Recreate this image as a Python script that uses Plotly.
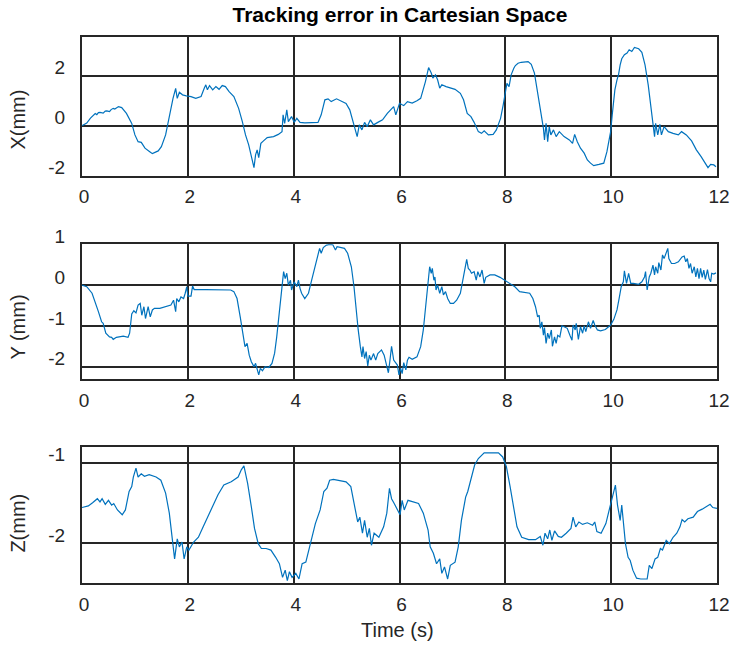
import plotly.graph_objects as go

# Time stamps (s) and tracking errors (mm) for each Cartesian axis
t_x = [0, 0.09, 0.16, 0.22, 0.25, 0.28, 0.31, 0.34, 0.4, 0.44, 0.47, 0.52, 0.55, 0.59, 0.62, 0.69, 0.75, 0.84,
       0.94, 1.0, 1.06, 1.12, 1.19, 1.28, 1.33, 1.44, 1.5, 1.58,
       1.65, 1.72, 1.77, 1.8, 1.84, 1.9, 1.97, 2.06, 2.15, 2.25, 2.31, 2.34, 2.37, 2.41, 2.47, 2.53, 2.59, 2.65,
       2.71, 2.78, 2.87, 2.96, 3.03, 3.09, 3.15, 3.2, 3.25, 3.28, 3.31, 3.34, 3.38, 3.43, 3.5, 3.62, 3.71, 3.78,
       3.8, 3.83, 3.87, 3.9, 3.96, 4.01, 4.06, 4.12, 4.21, 4.34, 4.46, 4.52, 4.59, 4.65, 4.71, 4.81, 4.9, 4.99,
       5.06, 5.12, 5.16, 5.2, 5.24, 5.29, 5.34, 5.39, 5.45, 5.51, 5.59, 5.68, 5.77, 5.84, 5.89, 5.93, 6.0, 6.05,
       6.08, 6.15, 6.24, 6.33, 6.4, 6.49, 6.55, 6.6, 6.63, 6.68, 6.72, 6.76, 6.8, 6.88, 6.96, 7.05, 7.15, 7.21,
       7.28, 7.35, 7.41, 7.49, 7.55, 7.6, 7.68, 7.77, 7.83, 7.91, 7.96, 8.01, 8.03, 8.07, 8.11, 8.16, 8.19, 8.24,
       8.3, 8.43, 8.49, 8.55, 8.61, 8.68, 8.72, 8.74, 8.77, 8.8, 8.83, 8.86, 8.91, 8.96, 9.02, 9.11, 9.21, 9.27,
       9.31, 9.36, 9.42, 9.49, 9.55, 9.61, 9.67, 9.77, 9.86, 9.92, 9.99, 10.02, 10.07, 10.11, 10.14, 10.17, 10.2,
       10.25, 10.3, 10.34, 10.39, 10.44, 10.52, 10.58, 10.64, 10.7, 10.75, 10.8, 10.82, 10.84, 10.88, 10.92,
       10.95, 11.0, 11.08, 11.17, 11.27, 11.33, 11.42, 11.52, 11.61, 11.7, 11.77, 11.83, 11.88, 11.94, 11.98]
err_x = [0, 0.1, 0.3, 0.43, 0.48, 0.44, 0.52, 0.53, 0.5, 0.58, 0.59, 0.56, 0.64, 0.69, 0.66, 0.76, 0.72, 0.49,
         0.09, -0.37, -0.64, -0.67, -0.9, -1.04, -1.12, -1.01,
         -0.84, -0.37, 0.43, 1.09, 1.49, 1.09, 1.33, 1.23, 1.19, 1.16, 1.09, 1.16, 1.49, 1.63, 1.43, 1.6, 1.43,
         1.56, 1.45, 1.6, 1.56, 1.36, 1.16, 0.69, 0.16, -0.37, -0.77, -1.3, -1.68, -1.17, -0.97, -1.28, -0.71,
         -0.61, -0.48, -0.44, -0.35, -0.24, 0.43, 0.09, 0.63, 0.16, 0.36, 0.13, 0.29, 0.13, 0.11, 0.12, 0.13, 0.43,
         1.03, 1.07, 0.96, 1.07, 0.99, 0.89, 0.63, 0.16, -0.24, -0.44, 0.03, -0.17, 0.13, -0.04, 0.23, 0.03, 0.13,
         0.23, 0.49, 0.63, 0.76, 0.43, 0.89, 0.83, 0.8, 0.96, 0.9, 0.99, 1.09, 1.76, 2.32, 2.1, 1.9, 2.03, 1.83,
         1.5, 1.63, 1.56, 1.5, 1.45, 1.29, 1.03, 0.49, 0.36, 0.13, -0.24, -0.31, -0.21, -0.37, -0.35, -0.17, 0.29,
         0.83, 1.36, 1.69, 1.56, 2.03, 2.29, 2.4, 2.49, 2.53, 2.56, 2.45, 2.1, 1.36, 0.43, -0.11, -0.57, 0.09,
         -0.64, -0.04, -0.37, -0.17, -0.44, -0.24, -0.44, -0.57, -0.71, -0.35, -0.64, -0.9, -1.1, -1.37, -1.5,
         -1.6, -1.55, -1.5, -1.04, -0.24, 0.43, 1.43, 1.83, 2.05, 2.43, 2.67, 2.83, 2.9, 3.03, 2.96, 3.12, 3.07,
         2.93, 2.43, 1.63, 0.83, 0.05, -0.44, 0.09, -0.37, 0.05, -0.37, -0.04, -0.24, -0.31, -0.37, -0.24, -0.37,
         -0.61, -0.97, -1.24, -1.5, -1.68, -1.55, -1.57, -1.64]

t_y = [0, 0.09, 0.19, 0.25, 0.31, 0.37, 0.4, 0.45, 0.52, 0.56, 0.59, 0.65, 0.72, 0.78, 0.87, 0.9, 0.94, 0.98,
       1.02, 1.06, 1.1, 1.13, 1.17, 1.2, 1.25, 1.29, 1.33, 1.37, 1.47, 1.59, 1.68, 1.73, 1.77, 1.79, 1.83, 1.87,
       1.92, 1.95, 1.98, 2.0, 2.06, 2.09, 2.12, 2.34, 2.59, 2.81, 2.87, 2.93, 2.99, 3.04, 3.08, 3.12, 3.16, 3.2,
       3.25, 3.28, 3.31, 3.34, 3.37, 3.41, 3.46, 3.53, 3.59, 3.64, 3.68, 3.73, 3.78, 3.81, 3.84, 3.87, 3.9, 3.94,
       3.96, 4.01, 4.06, 4.09, 4.12, 4.15, 4.21, 4.28, 4.34, 4.4, 4.46, 4.49, 4.52, 4.56, 4.62, 4.68, 4.74, 4.79,
       4.82, 4.9, 4.96, 5.02, 5.09, 5.14, 5.18, 5.22, 5.26, 5.29, 5.31, 5.34, 5.37, 5.4, 5.43, 5.46, 5.51, 5.55,
       5.59, 5.66, 5.71, 5.76, 5.79, 5.82, 5.85, 5.89, 5.93, 5.96, 5.99, 6.02, 6.05, 6.08, 6.12, 6.15, 6.18, 6.24,
       6.33, 6.4, 6.45, 6.49, 6.53, 6.57, 6.6, 6.62, 6.65, 6.67, 6.69, 6.72, 6.76, 6.8, 6.83, 6.87, 6.91, 6.96,
       7.02, 7.08, 7.15, 7.21, 7.27, 7.3, 7.33, 7.36, 7.41, 7.45, 7.48, 7.52, 7.56, 7.6, 7.63, 7.71, 7.8, 7.9,
       7.99, 8.08, 8.18, 8.27, 8.36, 8.46, 8.52, 8.57, 8.61, 8.64, 8.66, 8.69, 8.72, 8.74, 8.77, 8.8, 8.83, 8.87,
       8.89, 8.93, 8.96, 8.99, 9.03, 9.07, 9.11, 9.17, 9.22, 9.26, 9.28, 9.32, 9.34, 9.38, 9.42, 9.46, 9.49, 9.52,
       9.57, 9.61, 9.66, 9.69, 9.74, 9.8, 9.89, 9.99, 10.05, 10.11, 10.15, 10.19, 10.23, 10.25, 10.29, 10.33,
       10.37, 10.42, 10.52, 10.58, 10.63, 10.65, 10.68, 10.72, 10.75, 10.79, 10.82, 10.84, 10.88, 10.9, 10.94,
       10.97, 11.0, 11.03, 11.07, 11.09, 11.14, 11.2, 11.27, 11.34, 11.38, 11.41, 11.44, 11.47, 11.5, 11.53,
       11.57, 11.6, 11.63, 11.66, 11.69, 11.72, 11.75, 11.78, 11.82, 11.85, 11.88, 11.9, 11.94, 11.98]
err_y = [0, -0.04, -0.2, -0.41, -0.65, -0.9, -0.94, -1.18, -1.27, -1.28, -1.33, -1.28, -1.27, -1.25, -1.28,
         -1.18, -0.71, -0.63, -0.68, -0.49, -0.45, -0.74, -0.53, -0.82, -0.53, -0.78, -0.61, -0.57, -0.57, -0.53,
         -0.49, -0.37, -0.65, -0.33, -0.41, -0.29, -0.33, -0.2, -0.04, -0.27, -0.27, -0.02, -0.11, -0.11, -0.11,
         -0.12, -0.16, -0.33, -0.78, -1.18, -1.51, -1.43, -1.72, -1.88, -2.0, -1.92, -2.08, -2.2, -2.04, -2.1,
         -2.0, -2.02, -1.92, -1.67, -1.27, -0.69, -0.12, 0.33, 0.16, 0.29, 0, 0.12, -0.12, 0.08, -0.04, 0.12,
         -0.08, -0.2, -0.33, -0.2, 0.12, 0.45, 0.78, 0.9, 0.78, 0.92, 0.98, 1.0, 0.99, 0.86, 0.94, 0.92, 0.9,
         0.78, 0.45, -0.04, -0.61, -1.1, -1.51, -1.76, -1.51, -1.8, -1.63, -1.98, -1.72, -1.84, -1.68, -1.84,
         -1.68, -1.59, -1.72, -1.96, -2.15, -1.84, -1.5, -1.84, -1.9, -1.96, -2.2, -2.04, -2.17, -1.9, -2.08,
         -1.84, -1.77, -1.82, -1.76, -1.51, -1.1, -0.53, -0.04, 0.45, 0.29, 0.41, 0.12, 0.2, -0.12, 0, -0.2, -0.04,
         -0.24, -0.16, -0.33, -0.45, -0.45, -0.37, -0.2, 0.2, 0.63, 0.41, 0.37, 0.29, 0.33, 0.12, 0.33, 0.2, 0.37,
         0.04, 0.19, 0.25, 0.25, 0.19, 0.11, 0.04, -0.04, -0.16, -0.18, -0.2, -0.33, -0.53, -0.78, -0.74, -1.06,
         -0.9, -1.23, -1.04, -1.43, -1.18, -1.31, -1.1, -1.5, -1.27, -1.43, -1.23, -1.27, -1.0, -1.02, -1.06,
         -1.23, -1.35, -0.98, -1.1, -0.94, -1.33, -1.02, -1.18, -1.0, -1.14, -0.9, -1.06, -0.87, -0.98, -1.1,
         -1.12, -1.09, -0.98, -0.84, -0.61, -0.33, -0.04, 0.08, 0.35, 0.04, 0.29, 0.04, 0.04, 0.02, 0.08, 0.2,
         0.33, -0.12, 0.2, 0.29, 0.49, 0.25, 0.45, 0.29, 0.55, 0.37, 0.74, 0.65, 0.78, 0.9, 0.65, 0.53, 0.53,
         0.57, 0.69, 0.71, 0.57, 0.65, 0.41, 0.53, 0.29, 0.45, 0.2, 0.41, 0.16, 0.41, 0.19, 0.37, 0.14, 0.38,
         0.16, 0.08, 0.29, 0.27, 0.3]

t_z = [0, 0.12, 0.2, 0.29, 0.34, 0.38, 0.44, 0.5, 0.56, 0.6, 0.67, 0.76, 0.82, 0.89, 0.94, 0.97, 1.02, 1.06,
       1.12, 1.18, 1.27, 1.4, 1.49, 1.58, 1.65, 1.71, 1.75, 1.8, 1.84, 1.89, 1.93, 1.98, 2.02, 2.11, 2.2, 2.29,
       2.36, 2.42, 2.48, 2.57, 2.68, 2.82, 2.95, 3.01, 3.06, 3.13, 3.2, 3.26, 3.33, 3.39, 3.48, 3.57, 3.66, 3.73,
       3.79, 3.84, 3.88, 3.92, 3.97, 4.04, 4.1, 4.16, 4.23, 4.32, 4.41, 4.5, 4.57, 4.63, 4.68, 4.75, 4.85, 4.99,
       5.08, 5.16, 5.21, 5.25, 5.3, 5.34, 5.39, 5.43, 5.47, 5.52, 5.61, 5.7, 5.76, 5.81, 5.85, 5.9, 5.96, 6.01,
       6.05, 6.09, 6.16, 6.27, 6.36, 6.45, 6.54, 6.58, 6.64, 6.7, 6.76, 6.8, 6.85, 6.91, 6.96, 7.05, 7.11, 7.17,
       7.25, 7.29, 7.35, 7.42, 7.49, 7.6, 7.73, 7.87, 7.95, 8.02, 8.09, 8.15, 8.22, 8.31, 8.44, 8.57, 8.66, 8.71,
       8.75, 8.8, 8.84, 8.88, 8.93, 9.0, 9.06, 9.15, 9.24, 9.28, 9.33, 9.39, 9.46, 9.55, 9.65, 9.69, 9.73, 9.81,
       9.9, 9.97, 10.04, 10.08, 10.12, 10.17, 10.2, 10.24, 10.27, 10.32, 10.36, 10.41, 10.48, 10.56, 10.68,
       10.72, 10.77, 10.83, 10.88, 10.93, 10.97, 11.04, 11.1, 11.17, 11.24, 11.3, 11.34, 11.39, 11.45, 11.55,
       11.63, 11.72, 11.81, 11.87, 11.92, 12.0]
err_z = [-1.56, -1.54, -1.5, -1.45, -1.49, -1.45, -1.52, -1.47, -1.53, -1.51, -1.59, -1.65, -1.59, -1.36, -1.3,
         -1.18, -1.07, -1.18, -1.14, -1.17, -1.15, -1.18, -1.22, -1.38, -1.63, -1.93, -2.2, -1.95, -2.05, -1.99,
         -2.2, -2.05, -2.09, -1.99, -1.93, -1.8, -1.7, -1.63, -1.53, -1.4, -1.28, -1.24, -1.18, -1.09, -1.04,
         -1.26, -1.55, -1.82, -2.01, -2.07, -2.07, -2.09, -2.18, -2.26, -2.43, -2.34, -2.47, -2.36, -2.43, -2.38,
         -2.45, -2.26, -2.24, -2.01, -1.76, -1.59, -1.36, -1.32, -1.22, -1.21, -1.22, -1.24, -1.3, -1.55, -1.74,
         -1.68, -1.88, -1.72, -1.93, -1.82, -2.03, -1.88, -1.93, -1.8, -1.63, -1.32, -1.45, -1.51, -1.59, -1.65,
         -1.47, -1.59, -1.47, -1.49, -1.51, -1.63, -1.84, -2.05, -2.13, -2.26, -2.2, -2.38, -2.3, -2.45, -2.28,
         -2.24, -2.05, -1.72, -1.43, -1.36, -1.22, -1.03, -0.95, -0.88, -0.88, -0.88, -0.93, -1.05, -1.3, -1.55,
         -1.8, -1.93, -1.96, -1.96, -1.92, -2.03, -1.88, -1.95, -1.84, -1.97, -1.85, -1.92, -1.93, -1.88, -1.82,
         -1.68, -1.8, -1.74, -1.77, -1.75, -1.78, -1.74, -1.86, -1.88, -1.76, -1.57, -1.38, -1.28, -1.53, -1.72,
         -1.53, -1.84, -2.01, -2.18, -2.22, -2.34, -2.44, -2.45, -2.45, -2.28, -2.32, -2.2, -2.18, -2.07, -2.09,
         -1.97, -2.01, -1.93, -1.88, -1.8, -1.71, -1.74, -1.7, -1.68, -1.61, -1.58, -1.54, -1.52, -1.56, -1.57]

x_ticks = [0, 2, 4, 6, 8, 10, 12]
panels = [
    # (times, errors, y-range, y tick values, axis label, label centre in px)
    (t_x, err_x, [-2, 3.54], [-2, 0, 2], "X(mm)", 120),
    (t_y, err_y, [-2.31, 1.0], [-2, -1, 0, 1], "Y (mm)", 327),
    (t_z, err_z, [-2.5, -0.81], [-2, -1], "Z(mm)", 523),
]
domains = [[0.746, 1.0], [0.3731, 0.6203], [0.0, 0.2485]]

W, H = 742, 658
M = dict(l=82, r=19, t=37, b=75)
FONT = "Liberation Sans, Arial, Helvetica, sans-serif"
INK = "#262626"
LINE = "#0072BD"
FS = 19

fig = go.Figure()
layout = dict(
    width=W, height=H, margin=M,
    paper_bgcolor="white", plot_bgcolor="white",
    showlegend=False,
    font=dict(family=FONT, size=FS, color=INK),
)

axis_common = dict(
    showline=True, linecolor=INK, linewidth=2, mirror=True,
    showgrid=True, gridcolor=INK, gridwidth=2,
    zeroline=False, ticks="",
    tickfont=dict(family=FONT, size=FS, color=INK),
)

annotations = []
plot_w = W - M["l"] - M["r"]
plot_h = H - M["t"] - M["b"]
for i, (t, e, yr, yt, label, label_y) in enumerate(panels, start=1):
    xa = "x" if i == 1 else f"x{i}"
    ya = "y" if i == 1 else f"y{i}"
    fig.add_trace(go.Scatter(x=t, y=e, mode="lines", xaxis=xa, yaxis=ya,
                             line=dict(color=LINE, width=1.2), hoverinfo="skip"))
    layout[f"xaxis{'' if i == 1 else i}"] = dict(
        axis_common, domain=[0, 1], anchor=ya, range=[0, 12],
        tickvals=x_ticks, ticktext=[str(v) for v in x_ticks],
        ticklabelstandoff=3, ticklabelshift=2,
    )
    layout[f"yaxis{'' if i == 1 else i}"] = dict(
        axis_common, domain=domains[i - 1], anchor=xa, range=yr,
        tickvals=yt, ticktext=[str(v) for v in yt],
        ticklabelstandoff=11, ticklabelshift=-8,
    )
    annotations.append(dict(
        text=label, textangle=-90, showarrow=False,
        xref="paper", yref="paper",
        x=(17 - M["l"]) / plot_w,
        y=(H - M["b"] - label_y) / plot_h,
        xanchor="center", yanchor="middle",
        font=dict(family=FONT, size=20, color=INK),
    ))

annotations.append(dict(
    text="Time (s)", showarrow=False, xref="paper", yref="paper",
    x=(400 - M["l"]) / plot_w,
    y=(H - M["b"] - 630) / plot_h,
    xanchor="center", yanchor="middle",
    font=dict(family=FONT, size=20, color=INK),
))
layout["annotations"] = annotations
layout["title"] = dict(
    text="<b>Tracking error in Cartesian Space</b>",
    x=400 / W, xanchor="center", y=1 - 15 / H, yanchor="middle",
    font=dict(family=FONT, size=21, color="black"),
)

fig.update_layout(**layout)
fig.write_html("out.html")
